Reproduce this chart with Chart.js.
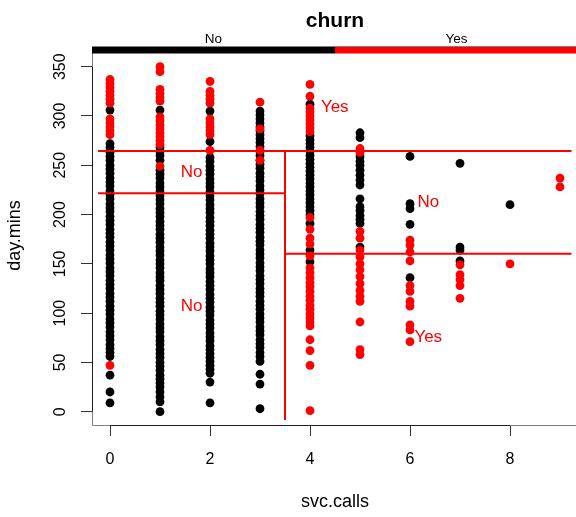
<!DOCTYPE html>
<html><head><meta charset="utf-8">
<script src="https://cdn.jsdelivr.net/npm/chart.js@4/dist/chart.umd.min.js"></script>
<style>html,body{margin:0;padding:0;overflow:hidden;background:#fff;width:576px;height:517px}canvas{display:block}</style>
</head><body><canvas id="c" width="590" height="517"></canvas>
<script>
// ---- data ----
const svcCalls = [0, 1, 2, 3, 4, 5, 6, 7, 8, 9];
const churnClasses = ['No', 'Yes'];
const dayMinsNo = [
  [306, 272, 268, 263, 259, 255, 250, 246, 242, 237, 233, 229, 224, 220, 216, 211, 207, 203, 198, 194, 190, 185, 181, 177, 172, 168, 164, 159, 155, 151, 146, 142, 138, 133, 129, 125, 120, 116, 112, 107, 103, 99, 94, 90, 86, 81, 77, 73, 68, 64, 60, 56, 37, 20, 9],
  [306, 268, 264, 260, 255, 245, 241, 237, 232, 228, 224, 219, 215, 211, 206, 202, 198, 193, 189, 185, 180, 176, 172, 167, 163, 159, 154, 150, 146, 141, 137, 133, 128, 124, 120, 115, 111, 107, 102, 98, 94, 89, 85, 81, 76, 72, 68, 63, 59, 55, 50, 46, 42, 37, 33, 29, 25, 20, 15, 10, 0],
  [305, 274, 258, 254, 249, 245, 241, 236, 232, 228, 223, 219, 215, 210, 206, 202, 197, 193, 189, 184, 180, 176, 171, 167, 163, 158, 154, 150, 145, 141, 137, 132, 128, 124, 119, 115, 111, 106, 102, 98, 93, 89, 85, 80, 76, 72, 67, 63, 59, 55, 51, 47, 43, 39, 30, 9],
  [305, 301, 297, 293, 289, 285, 281, 277, 273, 269, 264, 260, 255, 251, 247, 242, 238, 234, 229, 225, 221, 216, 212, 208, 203, 199, 195, 190, 186, 182, 177, 173, 169, 164, 160, 156, 151, 147, 143, 138, 134, 130, 125, 121, 117, 112, 108, 104, 99, 95, 91, 86, 82, 78, 73, 69, 65, 60, 56, 51, 38, 28, 3],
  [312, 280, 276, 272, 268, 264, 260, 256, 252, 248, 244, 240, 236, 232, 228, 224, 220, 216, 212, 208, 204, 200, 191, 164, 152],
  [283, 278, 259, 254, 250, 245, 240, 235, 230, 216, 208, 204, 199, 195, 191, 167],
  [259, 211, 206, 190, 136],
  [252, 167, 164, 153],
  [210],
  []
];
const dayMinsYes = [
  [337, 333, 329, 325, 321, 317, 313, 297, 293, 289, 285, 281, 47],
  [350, 345, 327, 323, 319, 315, 299, 295, 291, 287, 283, 279, 275, 271, 249],
  [335, 325, 321, 317, 313, 297, 293, 289, 285, 281, 265],
  [314, 287, 265, 255],
  [332, 320, 308, 304, 300, 296, 292, 288, 284, 197, 185, 176, 170, 158, 146, 141, 136, 131, 127, 122, 117, 113, 108, 104, 99, 95, 91, 87, 73, 62, 47, 1],
  [267, 263, 183, 176, 164, 157, 150, 144, 137, 130, 123, 117, 112, 91, 63, 58],
  [174, 169, 162, 153, 128, 122, 112, 107, 88, 83, 71],
  [149, 139, 134, 128, 115],
  [150],
  [237, 228]
];
const xTicks = [0, 2, 4, 6, 8];
const yTicks = [0, 50, 100, 150, 200, 250, 300, 350];
// classification tree partition
const splitSvcCalls = 3.5;
const splitDayMinsTop = 264.45;
const splitDayMinsLeft = 221.7;
const splitDayMinsRight = 160.2;
const treeXRange = [-0.24, 9.23];
const treeYRange = [-8.4, 352.8];
const leafLabels = ['Yes', 'No', 'No', 'No', 'Yes'];

// ---- build ----
const RED = '#FF0000', BLACK = '#000000';
function toPoints(cols) {
  const pts = [];
  svcCalls.forEach((c, i) => cols[i].forEach(v => pts.push({x: c, y: v})));
  return pts;
}
function seg(x0, y0, x1, y1) {
  return {type: 'scatter', data: [{x: x0, y: y0}, {x: x1, y: y1}], showLine: true,
    borderColor: RED, borderWidth: 2, pointRadius: 0, order: 0, fill: false};
}
const [tx0, tx1] = treeXRange, [ty0, ty1] = treeYRange;
const leaves = [
  {label: leafLabels[0], x: (tx0 + tx1) / 2, y: (splitDayMinsTop + ty1) / 2},
  {label: leafLabels[1], x: (tx0 + splitSvcCalls) / 2, y: (splitDayMinsLeft + splitDayMinsTop) / 2},
  {label: leafLabels[2], x: (tx0 + splitSvcCalls) / 2, y: (ty0 + splitDayMinsLeft) / 2},
  {label: leafLabels[3], x: (splitSvcCalls + tx1) / 2, y: (splitDayMinsRight + splitDayMinsTop) / 2},
  {label: leafLabels[4], x: (splitSvcCalls + tx1) / 2, y: (ty0 + splitDayMinsRight) / 2}
];

const FONT = "'Liberation Sans', Arial, Helvetica, sans-serif";
Chart.defaults.font.family = FONT;
Chart.defaults.color = '#000';

const decor = {
  id: 'decor',
  afterDatasetsDraw(chart) {
    const {ctx, chartArea: a, scales: {x, y}} = chart;
    ctx.save();
    // box
    ctx.strokeStyle = '#808080'; ctx.lineWidth = 1;
    ctx.strokeRect(a.left + 0.5, a.top + 0.5, a.right - a.left, a.bottom - a.top);
    // axis lines over tick range
    ctx.strokeStyle = '#202020';
    ctx.beginPath();
    ctx.moveTo(x.getPixelForValue(xTicks[0]), a.bottom + 0.5);
    ctx.lineTo(x.getPixelForValue(xTicks[xTicks.length - 1]), a.bottom + 0.5);
    ctx.moveTo(a.left + 0.5, y.getPixelForValue(yTicks[0]));
    ctx.lineTo(a.left + 0.5, y.getPixelForValue(yTicks[yTicks.length - 1]));
    ctx.stroke();
    // class colour bar
    const w = (a.right - a.left) / churnClasses.length;
    const cols = [BLACK, RED];
    churnClasses.forEach((c, i) => {
      ctx.fillStyle = cols[i];
      ctx.fillRect(a.left + i * w, a.top + 1, w, 6.5);
      ctx.fillStyle = '#000';
      ctx.font = '13.5px ' + FONT;
      ctx.textAlign = 'center'; ctx.textBaseline = 'alphabetic';
      ctx.fillText(c, a.left + (i + 0.5) * w, a.top - 3);
    });
    // title
    ctx.font = 'bold 21px ' + FONT;
    ctx.fillText('churn', (a.left + a.right) / 2, 26.5);
    // y tick labels (rotated, as in R)
    ctx.font = '16px ' + FONT;
    yTicks.forEach(v => {
      ctx.save();
      ctx.translate(65, y.getPixelForValue(v));
      ctx.rotate(-Math.PI / 2);
      ctx.textAlign = 'center'; ctx.textBaseline = 'alphabetic';
      ctx.fillText(String(v), 0, 0);
      ctx.restore();
    });
    // leaf labels
    ctx.fillStyle = RED;
    ctx.font = '17px ' + FONT;
    ctx.textAlign = 'center'; ctx.textBaseline = 'middle';
    leaves.forEach(l => ctx.fillText(l.label, x.getPixelForValue(l.x), y.getPixelForValue(l.y)));
    ctx.restore();
  }
};

new Chart(document.getElementById('c'), {
  type: 'scatter',
  data: {
    datasets: [
      seg(tx0, splitDayMinsTop, tx1, splitDayMinsTop),
      seg(splitSvcCalls, ty0, splitSvcCalls, splitDayMinsTop),
      seg(tx0, splitDayMinsLeft, splitSvcCalls, splitDayMinsLeft),
      seg(splitSvcCalls, splitDayMinsRight, tx1, splitDayMinsRight),
      {label: churnClasses[1], data: toPoints(dayMinsYes), backgroundColor: RED, pointRadius: 4.4, pointBorderWidth: 0, order: 1},
      {label: churnClasses[0], data: toPoints(dayMinsNo), backgroundColor: BLACK, pointRadius: 4.4, pointBorderWidth: 0, order: 2}
    ]
  },
  options: {
    responsive: false,
    animation: false,
    events: [],
    layout: {padding: {top: 46, right: 12, bottom: 0, left: 0}},
    plugins: {legend: {display: false}, tooltip: {enabled: false}, title: {display: false}},
    scales: {
      x: {
        type: 'linear', min: -0.36, max: 9.36,
        afterBuildTicks: s => { s.ticks = xTicks.map(v => ({value: v})); },
        afterFit: s => { s.height = 92; },
        grid: {drawOnChartArea: false, drawTicks: true, tickLength: 11, color: '#333'},
        border: {display: false},
        ticks: {font: {size: 16}, color: '#000', padding: 14, maxRotation: 0},
        title: {display: true, text: 'svc.calls', font: {size: 18}, color: '#000'}
      },
      y: {
        type: 'linear', min: -13.5, max: 371,
        afterBuildTicks: s => { s.ticks = yTicks.map(v => ({value: v})); },
        afterFit: s => { s.width = 92; },
        grid: {drawOnChartArea: false, drawTicks: true, tickLength: 11, color: '#333'},
        border: {display: false},
        ticks: {display: false},
        title: {display: true, text: 'day.mins', font: {size: 18}, color: '#000'}
      }
    }
  },
  plugins: [decor]
});
</script>
</body></html>
